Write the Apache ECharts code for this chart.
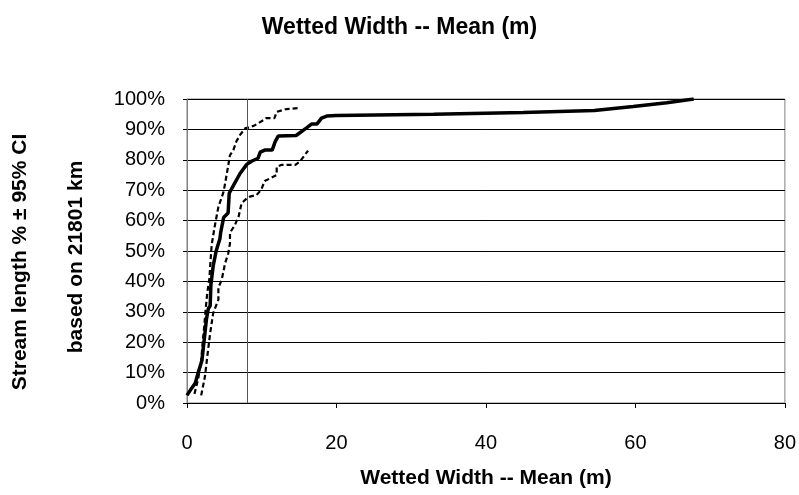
<!DOCTYPE html>
<html>
<head>
<meta charset="utf-8">
<script src="https://cdn.jsdelivr.net/npm/echarts@6/dist/echarts.min.js"></script>
<style>
html,body{margin:0;padding:0;background:#fff;}
#chart{width:799px;height:495px;}
</style>
</head>
<body>
<div id="chart"></div>
<script>
// ---- data ----
var titleText = 'Wetted Width -- Mean (m)';
var xAxisTitle = 'Wetted Width -- Mean (m)';
var yTitle1 = 'Stream length % \u00b1 95% CI';
var yTitle2 = 'based on 21801 km';
var referenceX = 8;

// Mean curve (width m, cumulative % of stream length)
var meanX = [0, 0.6, 1.1, 1.5, 2.0, 2.2, 2.4, 2.6, 2.85, 3.1, 3.2, 3.5, 3.9, 4.4, 4.5, 4.9, 5.5, 5.65, 6.2, 7.1, 8.0, 8.7, 9.5, 9.8, 10.4, 11.4, 11.8, 12.2, 14.6, 16.0, 16.7, 17.4, 18.0, 18.7, 20, 33, 45, 54.5, 59.7, 64.2, 67.8];
var meanY = [2.5, 4.8, 6.5, 10, 14, 18.5, 23, 27.5, 31, 32, 39, 45, 50, 54, 56, 61, 62.5, 69, 71.5, 75.5, 78.5, 79.6, 80.5, 82.5, 83.2, 83.2, 86, 87.8, 88, 90.5, 91.8, 91.8, 93.7, 94.4, 94.6, 95, 95.6, 96.2, 97.5, 98.8, 100];

// Upper 95% CI (left dashed curve)
var upperX = [1.0, 1.5, 1.9, 2.1, 2.3, 2.5, 2.7, 3.0, 3.1, 3.3, 3.7, 4.2, 4.9, 5.3, 5.75, 6.2, 6.6, 7.1, 7.8, 8.4, 9.1, 10.2, 10.6, 11.7, 12.0, 13.3, 14.9];
var upperY = [3, 8, 14, 20, 25, 31, 36, 41, 45, 52, 58, 64.5, 69.5, 75, 81.5, 83.2, 86, 88.2, 90.4, 90.6, 91.4, 93, 93.7, 93.7, 95.8, 96.7, 97];

// Lower 95% CI (right dashed curve)
var lowerX = [1.9, 2.4, 2.75, 3.1, 3.5, 4.2, 4.2, 4.64, 5.1, 5.5, 5.75, 5.75, 6.4, 6.9, 7.3, 8.0, 8.4, 9.3, 9.7, 10.0, 10.4, 12.0, 12.0, 12.6, 14.5, 15.1, 16.2];
var lowerY = [2.5, 8.7, 16, 23, 29.5, 34, 38, 40.5, 46, 49, 52.5, 56, 58.5, 61.3, 65.7, 67.3, 67.9, 68.4, 69.5, 70.6, 73, 75, 77.7, 78.3, 78.3, 79.4, 83];

var xTicks = {min: 0, max: 80, interval: 20};
var yTicks = {min: 0, max: 100, interval: 10};

function pairs(xs, ys) { return xs.map(function (x, i) { return [x, ys[i]]; }); }

var FONT = '"Liberation Sans", Arial, sans-serif';
var chart = echarts.init(document.getElementById('chart'), null, {renderer: 'canvas'});
chart.setOption({
  backgroundColor: '#ffffff',
  animation: false,
  title: {
    text: titleText, left: 'center', top: 11,
    textStyle: {fontFamily: FONT, fontWeight: 'bold', fontSize: 23, color: '#000'}
  },
  grid: {left: 187, right: 13, top: 99, bottom: 92, show: true, borderColor: '#808080', borderWidth: 1},
  xAxis: {
    type: 'value', min: xTicks.min, max: xTicks.max, interval: xTicks.interval,
    name: xAxisTitle, nameLocation: 'middle', nameGap: 65,
    nameTextStyle: {fontFamily: FONT, fontWeight: 'bold', fontSize: 21, color: '#000'},
    axisLine: {show: true, lineStyle: {color: '#000', width: 1}},
    axisTick: {show: true, length: 5, lineStyle: {color: '#000'}},
    axisLabel: {fontFamily: FONT, fontSize: 20, color: '#000', margin: 30},
    splitLine: {show: false}
  },
  yAxis: {
    type: 'value', min: yTicks.min, max: yTicks.max, interval: yTicks.interval,
    axisLine: {show: true, lineStyle: {color: '#808080', width: 1}},
    axisTick: {show: true, length: 4, lineStyle: {color: '#000'}},
    axisLabel: {fontFamily: FONT, fontSize: 20, color: '#000', margin: 22, formatter: '{value}%'},
    splitLine: {show: true, lineStyle: {color: '#000', width: 1}}
  },
  graphic: [
    {type: 'text', rotation: Math.PI / 2, x: 20, y: 262,
     style: {text: yTitle1, font: 'bold 21px ' + FONT, fill: '#000', textAlign: 'center', textVerticalAlign: 'middle'}},
    {type: 'text', rotation: Math.PI / 2, x: 76, y: 257,
     style: {text: yTitle2, font: 'bold 21px ' + FONT, fill: '#000', textAlign: 'center', textVerticalAlign: 'middle'}}
  ],
  series: [
    {
      name: 'Mean', type: 'line', data: pairs(meanX, meanY), showSymbol: false, symbol: 'none',
      lineStyle: {color: '#000', width: 3.5}, z: 5,
      markLine: {
        silent: true, symbol: 'none', label: {show: false},
        lineStyle: {color: '#555', width: 1, type: 'solid'},
        data: [{xAxis: referenceX}]
      }
    },
    {
      name: 'Upper CI', type: 'line', data: pairs(upperX, upperY), showSymbol: false, symbol: 'none',
      lineStyle: {color: '#000', width: 2.2, type: [5, 3]}, z: 4
    },
    {
      name: 'Lower CI', type: 'line', data: pairs(lowerX, lowerY), showSymbol: false, symbol: 'none',
      lineStyle: {color: '#000', width: 2.2, type: [5, 3]}, z: 4
    }
  ]
});
</script>
</body>
</html>
